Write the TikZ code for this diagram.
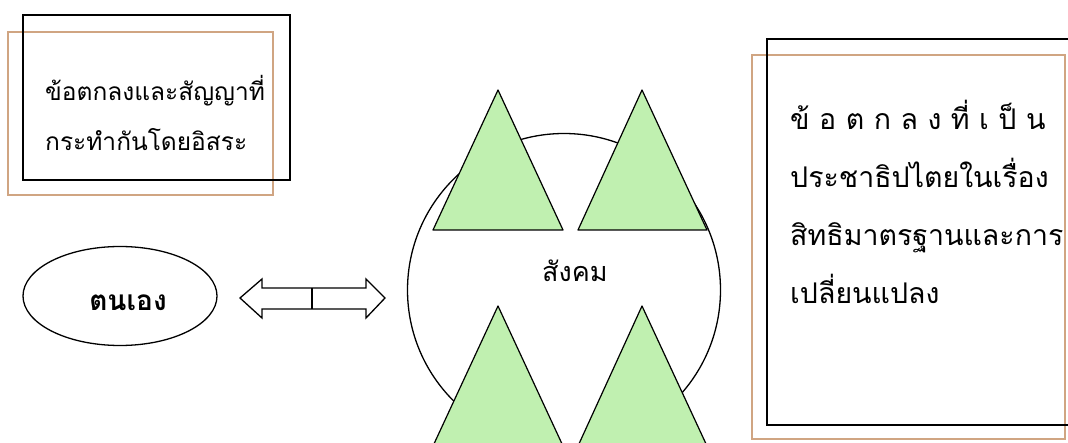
\documentclass[tikz,border=0pt]{standalone}
\usepackage{fontspec}
\newfontfamily\thaifont[Script=Thai]{Loma}
\usepackage{tikz}
\usetikzlibrary{positioning,shapes.geometric}
\definecolor{frametan}{RGB}{208,165,130}
\definecolor{treegreen}{RGB}{192,240,176}

\begin{document}
\begin{tikzpicture}[x=1pt, y=-1pt, font=\thaifont\fontsize{24.5}{50}\selectfont,
  tanbox/.style={draw=frametan, line width=2pt, rectangle},
  blackframe/.style={draw=black, line width=2.5pt},
  tree/.style={draw=black, fill=treegreen, line width=1.2pt, line join=round}]
\useasboundingbox (0,0) rectangle (1068,443);

% left box
\node[tanbox, minimum width=265, minimum height=163] (freeBox) at (140.5,113.5) {};
\node[anchor=west, align=left, inner sep=0pt] (freeText) at (45,113) {ข้อตกลงและสัญญาที่\\กระทำกันโดยอิสระ};
\draw[blackframe] ([shift={(16,-16)}]freeBox.south west) rectangle ([shift={(16,-16)}]freeBox.north east);

% right box
\node[tanbox, minimum width=313, minimum height=384] (rightsBox) at (908.5,247) {};
\node[anchor=west, align=left, inner sep=0pt, text width=268, font=\thaifont\fontsize{28.5}{58}\selectfont] (rightsText) at (790,202) {\makebox[\linewidth][s]{ข้ อ ต ก ล ง ที่ เ ป็ น}\\ประชาธิปไตยในเรื่อง\\สิทธิมาตรฐานและการ\\เปลี่ยนแปลง};
\draw[blackframe] ([shift={(16,-15)}]rightsBox.south west) rectangle ([shift={(16,-15)}]rightsBox.north east);

% self
\node[draw, ellipse, line width=1.3pt, minimum width=194, minimum height=99] (self) at (120,296) {};
\node[font=\thaifont\bfseries\fontsize{28}{30}\selectfont] (selfText) at (128,303) {ตนเอง};

% double arrow
\draw[line width=1.3pt, line join=miter] (240,298) -- (262,279) -- (262,288) -- (366,288) -- (366,279) -- (385,298) -- (366,318) -- (366,309) -- (262,309) -- (262,318) -- cycle;
\draw[line width=1.3pt] (312,288) -- (312,309);

% society
\node[draw, circle, line width=1.3pt, minimum size=313] (society) at (564,290) {};
\filldraw[tree] (498,90) -- (563,230) -- (433,230) -- cycle;
\filldraw[tree] (642,90) -- (707,230) -- (578,230) -- cycle;
\filldraw[tree] (498,306) -- (563,446) -- (433,446) -- cycle;
\filldraw[tree] (642,306) -- (707,446) -- (578,446) -- cycle;
\node[font=\thaifont\fontsize{27}{30}\selectfont] (societyText) at (575,271) {สังคม};
\end{tikzpicture}
\end{document}
